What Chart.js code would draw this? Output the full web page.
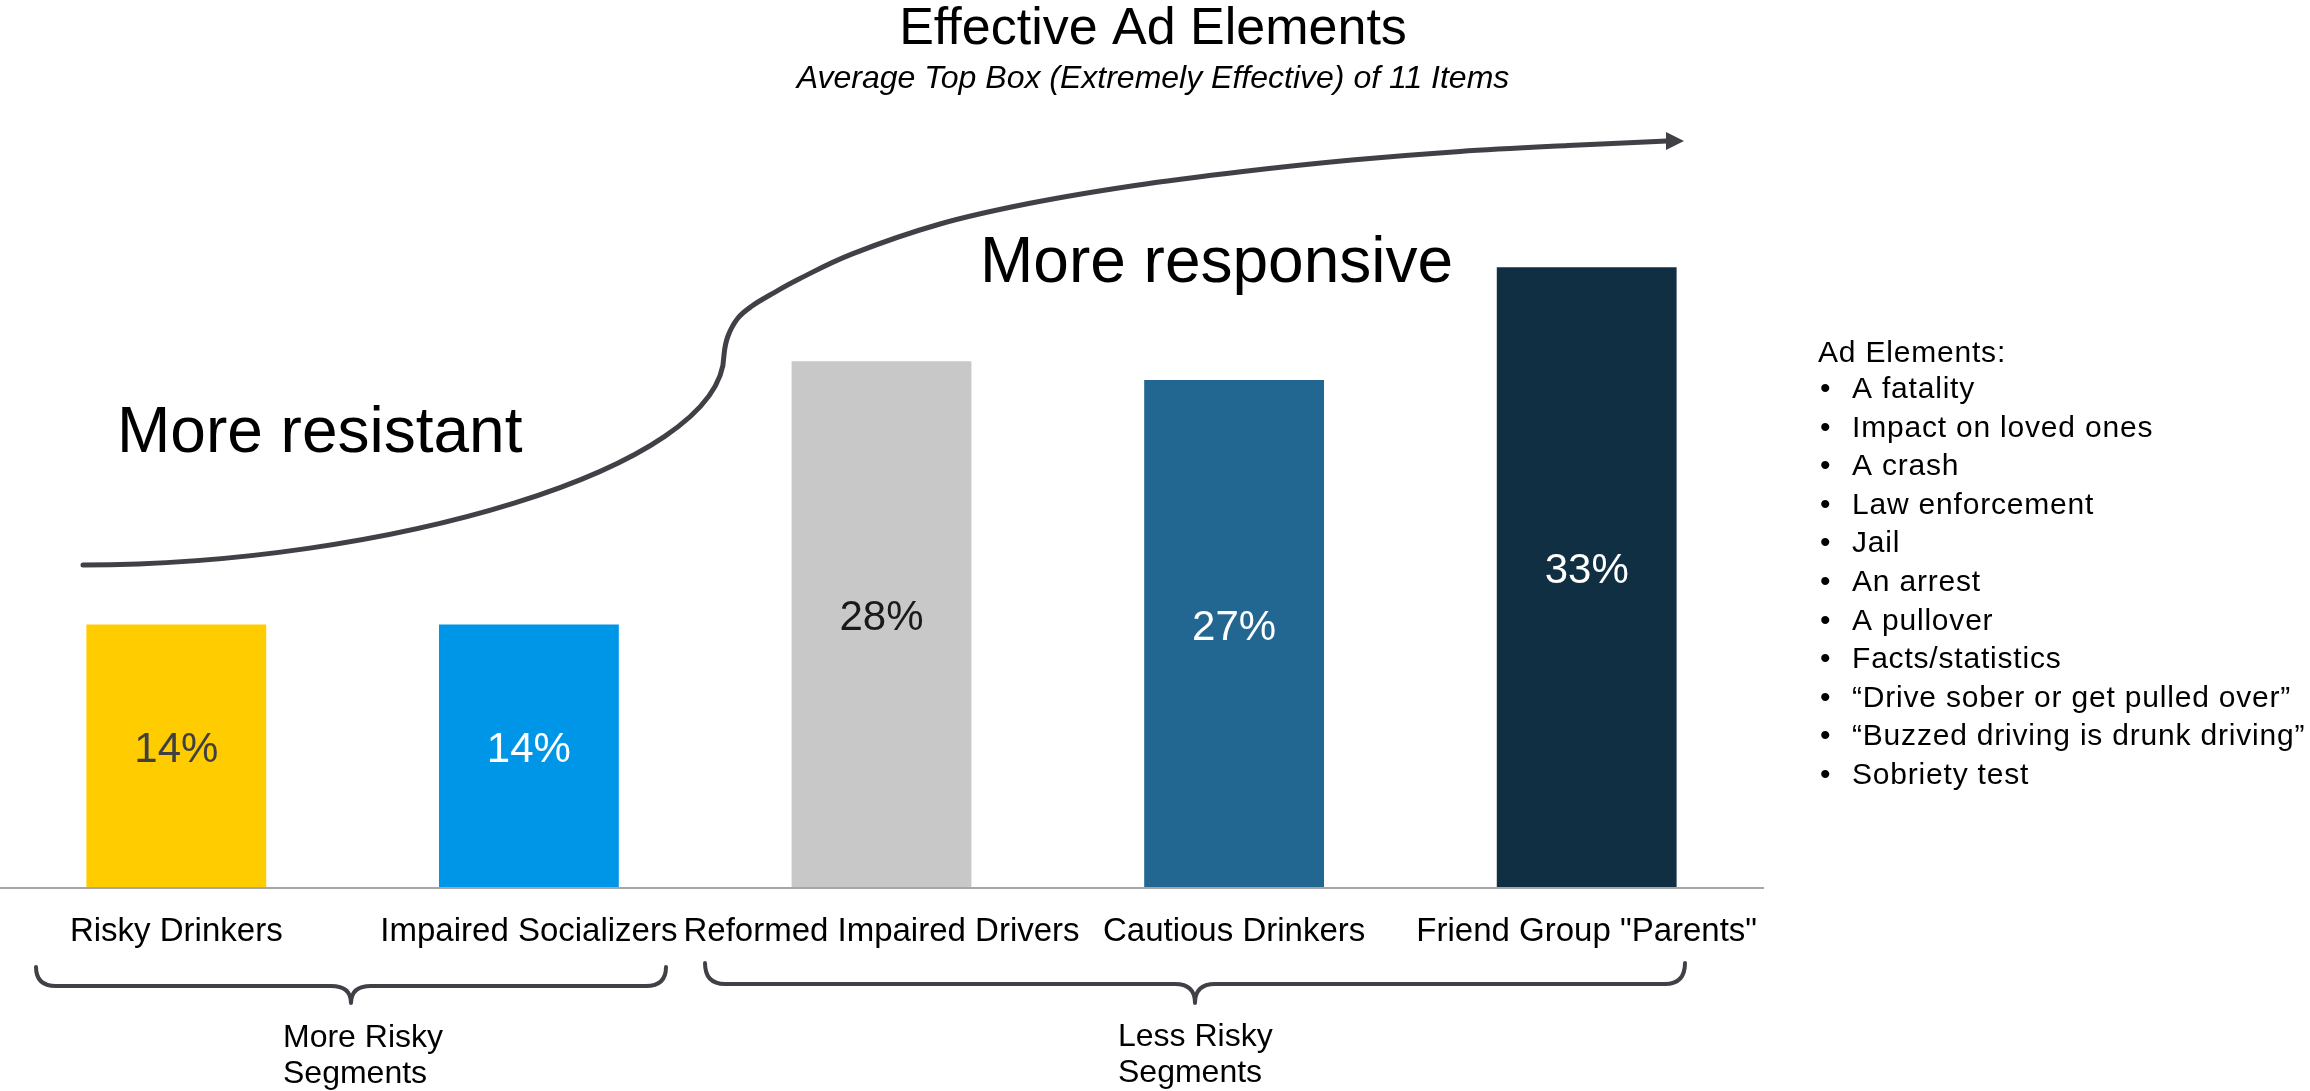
<!DOCTYPE html>
<html>
<head>
<meta charset="utf-8">
<script src="https://cdn.jsdelivr.net/npm/chart.js@4.4.1/dist/chart.umd.min.js"></script>
<style>
  html, body { margin: 0; padding: 0; background: #ffffff; }
  #wrap { width: 2310px; height: 1091px; position: relative; }
</style>
</head>
<body>
<div id="wrap"><canvas id="c" width="2310" height="1091"></canvas></div>
<script>
// ---- Data ----
const categories = ['Risky Drinkers', 'Impaired Socializers', 'Reformed Impaired Drivers', 'Cautious Drinkers', 'Friend Group "Parents"'];
const values = [14, 14, 28, 27, 33];
const valueLabels = ['14%', '14%', '28%', '27%', '33%'];
const groupLabels = [['More Risky', 'Segments'], ['Less Risky', 'Segments']];
const adElementsTitle = 'Ad Elements:';
const adElements = [
  'A fatality', 'Impact on loved ones', 'A crash', 'Law enforcement', 'Jail', 'An arrest',
  'A pullover', 'Facts/statistics', '\u201CDrive sober or get pulled over\u201D',
  '\u201CBuzzed driving is drunk driving\u201D', 'Sobriety test'
];
const titleText = 'Effective Ad Elements';
const subtitleText = 'Average Top Box (Extremely Effective) of 11 Items';
const leftNote = 'More resistant';
const rightNote = 'More responsive';

// ---- Styles ----
const FONT = '"Liberation Sans", Arial, Helvetica, sans-serif';
const barColors = ['#FFCC00', '#0096E8', '#C8C8C8', '#226792', '#112F42'];
const labelColors = ['#404040', '#FFFFFF', '#1A1A1A', '#FFFFFF', '#FFFFFF'];
const ink = '#414046';

const decor = {
  id: 'decor',
  afterDatasetsDraw(chart) {
    const ctx = chart.ctx;
    const meta = chart.getDatasetMeta(0);
    ctx.save();
    ctx.font = '42px ' + FONT;
    ctx.textAlign = 'center';
    ctx.textBaseline = 'middle';
    meta.data.forEach((bar, i) => {
      const p = bar.getProps(['x', 'y', 'base'], true);
      ctx.fillStyle = labelColors[i];
      ctx.fillText(valueLabels[i], p.x, (p.y + p.base) / 2 - 6);
    });
    ctx.restore();
  },
  afterDraw(chart) {
    const ctx = chart.ctx;
    ctx.save();
    // Title & subtitle
    ctx.fillStyle = '#000';
    ctx.textAlign = 'center';
    ctx.textBaseline = 'alphabetic';
    ctx.font = '52px ' + FONT;
    ctx.fillText(titleText, 1153, 44);
    ctx.font = 'italic 32px ' + FONT;
    ctx.fillText(subtitleText, 1153, 88);

    // Notes
    ctx.textAlign = 'left';
    ctx.font = '64px ' + FONT;
    ctx.fillText(leftNote, 117, 452);
    ctx.fillText(rightNote, 980, 282);

    // S-curve arrow (decoration): lower cubic + smooth upper arc
    ctx.strokeStyle = ink;
    ctx.lineWidth = 5;
    ctx.lineCap = 'round';
    ctx.lineJoin = 'round';
    ctx.beginPath();
    ctx.moveTo(83, 565);
    ctx.bezierCurveTo(380, 565, 722, 470, 724, 355);
    const up = [[724,380],[724,355],[728,336],[738,318],[752,306],[770,295],[800,278.5],[853,253.6],[940,224],
                [1030,203.3],[1135,185.5],[1243,171.5],[1352,160],[1460,151.4],[1568,145.5],[1667,141]];
    for (let i = 1; i < up.length - 1; i++) {
      const p0 = up[i - 1], p1 = up[i], p2 = up[i + 1], p3 = up[Math.min(up.length - 1, i + 2)];
      const c1x = p1[0] + (p2[0] - p0[0]) / 6, c1y = p1[1] + (p2[1] - p0[1]) / 6;
      const c2x = p2[0] - (p3[0] - p1[0]) / 6, c2y = p2[1] - (p3[1] - p1[1]) / 6;
      ctx.bezierCurveTo(c1x, c1y, c2x, c2y, p2[0], p2[1]);
    }
    ctx.stroke();
    ctx.fillStyle = ink;
    ctx.beginPath();
    ctx.moveTo(1684, 141);
    ctx.lineTo(1666, 132);
    ctx.lineTo(1666, 150);
    ctx.closePath();
    ctx.fill();

    // Braces
    function brace(x1, x2, yTop, yLine, yTip) {
      const xm = (x1 + x2) / 2, r = 20;
      ctx.beginPath();
      ctx.moveTo(x1, yTop);
      ctx.quadraticCurveTo(x1, yLine, x1 + r, yLine);
      ctx.lineTo(xm - r, yLine);
      ctx.quadraticCurveTo(xm, yLine, xm, yTip);
      ctx.quadraticCurveTo(xm, yLine, xm + r, yLine);
      ctx.lineTo(x2 - r, yLine);
      ctx.quadraticCurveTo(x2, yLine, x2, yTop);
      ctx.stroke();
    }
    ctx.lineWidth = 4;
    brace(36, 666, 967, 986, 1003);
    brace(705, 1685, 963, 984, 1003);

    ctx.fillStyle = '#000';
    ctx.font = '32px ' + FONT;
    ctx.textAlign = 'left';
    ctx.fillText(groupLabels[0][0], 283, 1047);
    ctx.fillText(groupLabels[0][1], 283, 1083);
    ctx.fillText(groupLabels[1][0], 1118, 1046);
    ctx.fillText(groupLabels[1][1], 1118, 1082);

    // Right list
    ctx.font = '30px ' + FONT;
    if ('letterSpacing' in ctx) ctx.letterSpacing = '0.8px';
    ctx.fillText(adElementsTitle, 1818, 362);
    adElements.forEach((t, i) => {
      const y = 398 + i * 38.6;
      ctx.fillText('\u2022', 1820, y);
      ctx.fillText(t, 1852, y);
    });
    ctx.restore();
  }
};

new Chart(document.getElementById('c'), {
  type: 'bar',
  data: {
    labels: categories,
    datasets: [{
      data: values,
      backgroundColor: barColors,
      borderWidth: 0,
      categoryPercentage: 1.0,
      barPercentage: 0.51
    }]
  },
  options: {
    responsive: false,
    animation: false,
    devicePixelRatio: 1,
    layout: { padding: { left: 0, right: 547, top: 0, bottom: 0 } },
    plugins: { legend: { display: false }, tooltip: { enabled: false }, title: { display: false } },
    scales: {
      x: {
        grid: { display: false, drawTicks: false },
        border: { display: true, color: '#A6A6A6', width: 2, z: 1 },
        ticks: { color: '#000', font: { size: 33, family: FONT }, padding: 24, maxRotation: 0, autoSkip: false },
        afterFit: (s) => { s.height = 203; }
      },
      y: { display: false, min: 0, max: 47.2 }
    }
  },
  plugins: [decor]
});
</script>
</body>
</html>
